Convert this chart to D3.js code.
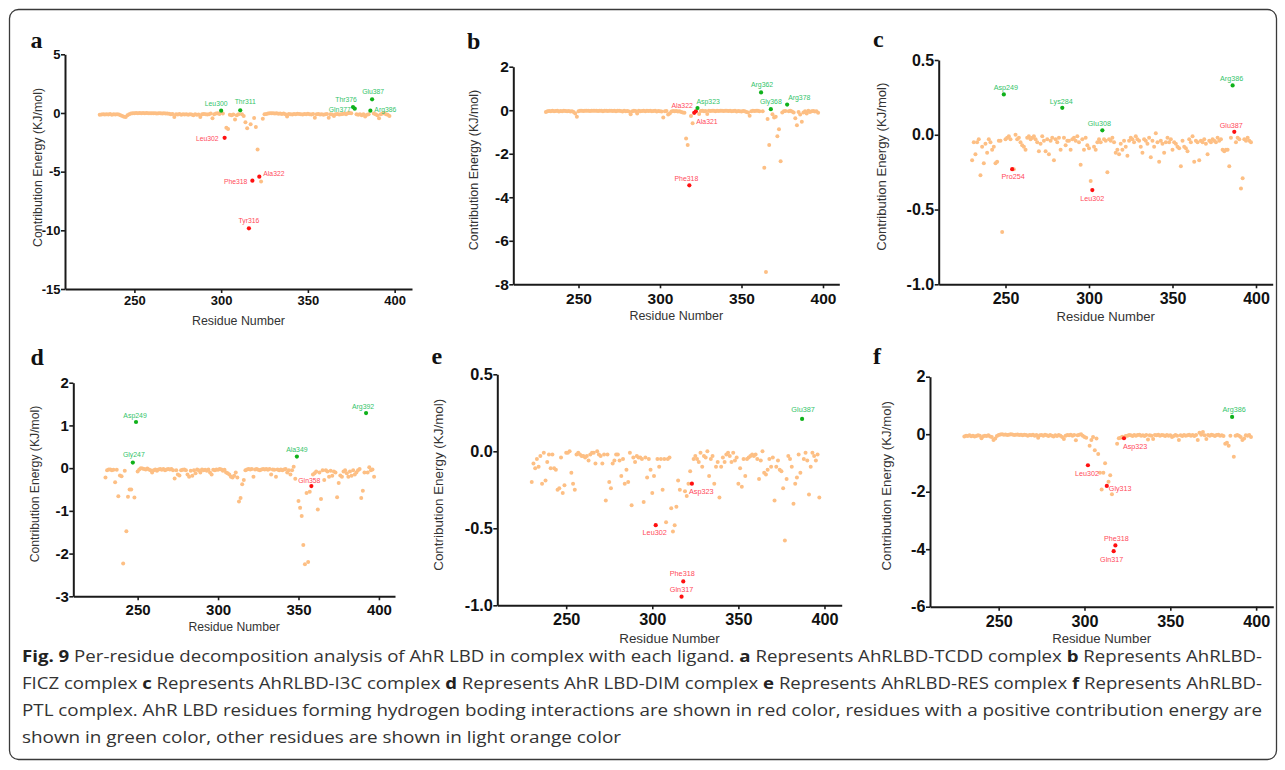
<!DOCTYPE html>
<html>
<head>
<meta charset="utf-8">
<script src="https://cdn.jsdelivr.net/npm/d3@7"></script>
<style>
  body { margin: 0; background: #fff; }
  svg { display: block; }
</style>
</head>
<body>
<div id="fig"></div>
<script>
// residues 230..397 of the AhR LBD, one value per residue in every panel
const residues = d3.range(230, 398);

const energyA = [
  -0.15,-0.12,-0.10,-0.14,-0.10,-0.12,-0.08,-0.15,-0.10,-0.12,
  -0.10,-0.14,-0.20,-0.25,-0.32,-0.35,-0.20,-0.10,-0.05,-0.03,
  -0.02,-0.01,-0.02,-0.01,-0.02,-0.01,-0.02,-0.01,-0.02,-0.03,
  -0.02,-0.03,-0.02,-0.05,-0.03,-0.02,-0.04,-0.03,-0.05,-0.04,
  -0.06,-0.10,-0.08,-0.35,-0.10,-0.12,-0.08,-0.15,-0.10,-0.12,
  -0.10,-0.15,-0.10,-0.12,-0.20,-0.10,-0.15,-0.12,-0.35,-0.10,
  -0.08,-0.10,-0.12,-0.10,-0.05,-0.45,-0.10,-0.05,-0.02,-0.08,
   0.20,-0.05,-2.12,-1.25,-1.36,-0.15,-0.20,-0.12,-0.55,-0.20,
  -0.10, 0.23,-0.10,-0.25,-0.80,-1.30,-9.83,-0.97,-5.77,-0.43,
  -1.19,-3.12,-5.43,-5.85,-0.50,-0.10,-0.08,-0.05,-0.02,-0.03,
  -0.02,-0.05,-0.03,-0.06,-0.04,-0.08,-0.05,-0.10,-0.30,-0.08,
  -0.10,-0.12,-0.08,-0.10,-0.06,-0.08,-0.10,-0.12,-0.08,-0.10,
  -0.06,-0.10,-0.12,-0.08,-0.40,-0.10,-0.08,-0.12,-0.10,-0.15,
  -0.10,-0.08,-0.40,-0.10,-0.12,-0.25,-0.10,-0.08,-0.12,-0.10,
  -0.08,-0.05,-0.10,-0.03, 0.00,-0.02, 0.50, 0.37,-0.10,-0.15,
  -0.10,-0.20,-0.10,-0.30,-0.15,-0.10, 0.20, 1.16,-0.05,-0.10,
  -0.20,-0.45,-0.10,-0.05,-0.02,-0.10,-0.15,-0.25
];
const energyB = [
  -0.08,-0.05,-0.04,-0.05,-0.03,-0.05,-0.04,-0.03,-0.06,-0.04,
  -0.05,-0.03,-0.04,-0.05,-0.04,-0.06,-0.05,-0.08,-0.15,-0.30,
  -0.05,-0.03,-0.02,-0.04,-0.03,-0.02,-0.03,-0.04,-0.02,-0.03,
  -0.02,-0.03,-0.04,-0.02,-0.03,-0.05,-0.03,-0.02,-0.04,-0.03,
  -0.02,-0.04,-0.03,-0.05,-0.02,-0.03,-0.04,-0.06,-0.03,-0.05,
  -0.04,-0.06,-0.18,-0.05,-0.03,-0.04,-0.15,-0.03,-0.05,-0.04,
  -0.03,-0.05,-0.02,-0.04,-0.03,-0.05,-0.04,-0.03,-0.06,-0.04,
  -0.05,-0.06,-0.34,-0.05,-0.04,-0.20,-0.15,-0.06,-0.04,-0.05,
  -0.04,-0.06,-0.05,-0.08,-0.10,-0.12,-1.30,-1.60,-3.45,-0.26,
  -0.60,-0.12,-0.05, 0.10,-0.17,-0.04,-0.03,-0.05,-0.04,-0.17,
  -0.03,-0.04,-0.02,-0.03,-0.05,-0.02,-0.04,-0.03,-0.02,-0.04,
  -0.03,-0.02,-0.04,-0.03,-0.05,-0.04,-0.03,-0.06,-0.04,-0.05,
  -0.06,-0.04,-0.05,-0.08,-0.10,-0.25,-0.05,-0.03,-0.04,-0.02,
  -0.03,-0.05, 0.82,-0.05,-2.64,-7.43,-0.40,-1.60, 0.05,-0.18,
  -0.34,-0.30,-1.20,-0.87,-2.35,-0.10,-0.05,-0.04, 0.26,-0.05,
  -0.03,-0.06,-0.10,-0.37,-0.69,-0.08,-0.20,-0.53,-0.10,-0.05,
  -0.15,-0.03,-0.08,-0.05,-0.04,-0.06,-0.05,-0.12
];
const energyC = [
  -0.17,-0.05,-0.13,-0.05,-0.03,-0.27,-0.08,-0.19,-0.06,-0.12,
  -0.03,-0.05,-0.10,-0.08,-0.19,-0.18,-0.04,-0.04,-0.65, 0.27,
  -0.03,-0.02,-0.01,-0.03,-0.23,-0.23, 0.00,-0.03,-0.02,-0.05,
  -0.07,-0.08,-0.10,-0.02,-0.01,-0.03,-0.02,-0.01,-0.03,-0.05,
  -0.11,-0.06,-0.01,-0.04,-0.11,-0.03,-0.13,-0.04,-0.02,-0.17,
  -0.03,-0.05,-0.02,-0.10, 0.18,-0.02,-0.07,-0.04,-0.04,-0.10,
  -0.03,-0.02,-0.04,-0.01,-0.05,-0.20,-0.03,-0.10,-0.02,-0.07,
  -0.09,-0.31,-0.37,-0.08,-0.10,-0.05,-0.03,-0.05, 0.03,-0.03,
  -0.04,-0.25,-0.03,-0.04,-0.02,-0.05,-0.12,-0.10,-0.13,-0.06,
  -0.10,-0.04,-0.08,-0.14,-0.04,-0.02,-0.03,-0.05,-0.01,-0.03,
  -0.04,-0.08,-0.12,-0.03,-0.04,-0.06,-0.02,-0.15,-0.04,-0.08,
   0.01,-0.05,-0.18,-0.04,-0.06,-0.12,-0.05,-0.02,-0.05,-0.03,
  -0.10,-0.05,-0.06,-0.08,-0.09,-0.21,-0.04,-0.08,-0.09,-0.11,
  -0.03,-0.05,-0.01,-0.18,-0.04,-0.05,-0.17,-0.04,-0.05,-0.03,
  -0.06,-0.13,-0.04,-0.05,-0.03,-0.04,-0.05,-0.02,-0.04,-0.03,
  -0.10,-0.11,-0.10,-0.10,-0.21,-0.02, 0.33, 0.02,-0.05,-0.02,
  -0.03,-0.36,-0.29,-0.03,-0.04,-0.02,-0.04,-0.05
];
const energyD = [
  -0.22,-0.05,-0.03,-0.03,-0.05,-0.04,-0.33,-0.04,-0.66,-0.17,
  -0.19,-2.23,-0.06,-1.48,-0.67,-0.50,-0.50, 0.13,-0.69, 1.08,
  -0.08,-0.03, 0.00,-0.01,-0.02,-0.03,-0.01,-0.03,-0.05,-0.10,
  -0.05,-0.03,-0.06,-0.03,-0.02,-0.04,-0.02,-0.05,-0.03,-0.02,
  -0.03,-0.02,-0.05,-0.24,-0.05,-0.15,-0.17,-0.05,-0.04,-0.03,
  -0.05,-0.15,-0.20,-0.06,-0.18,-0.05,-0.12,-0.03,-0.05,-0.10,
  -0.03,-0.05,-0.04,-0.06,-0.03,-0.10,-0.15,-0.04,-0.05,-0.03,
  -0.04,-0.02,-0.03,-0.06,-0.04,-0.10,-0.12,-0.15,-0.20,-0.22,
  -0.18,-0.10,-0.22,-0.78,-0.70,-0.38,-0.28,-0.05,-0.03,-0.02,
  -0.03,-0.02,-0.20,-0.03,-0.02,-0.04,-0.05,-0.03,-0.02,-0.03,
  -0.02,-0.04,-0.02,-0.15,-0.03,-0.04,-0.20,-0.03,-0.05,-0.03,
  -0.05,-0.03,-0.02,-0.10,-0.05,-0.15,-0.05, 0.03,-0.25, 0.27,
  -0.77,-0.93,-1.12,-1.80,-2.25,-0.58,-2.20,-0.55,-0.42,-0.15,
  -0.12,-0.08,-0.97,-0.10,-0.72,-0.05,-0.28,-0.05,-0.08,-0.20,
  -0.06,-0.18,-0.08,-0.10,-0.68,-0.35,-0.17,-0.20,-0.08,-0.05,
  -0.12,-0.20,-0.08,-0.18,-0.05,-0.15,-0.10,-0.05,-0.02,-0.70,
  -0.53,-0.10, 1.29,-0.10, 0.02,-0.05,-0.03,-0.20
];
const energyE = [
  -0.20,-0.08,-0.11,-0.05,-0.10,-0.03,-0.21,-0.01,-0.19,-0.07,
  -0.02,-0.11,-0.02,-0.11,-0.12,-0.25,-0.24,-0.04,-0.27,-0.22,
  -0.01,-0.01, 0.00,-0.14,-0.21,-0.25,-0.02,-0.01,-0.02,-0.03,
  -0.03,-0.04,-0.03,-0.06,-0.02,-0.01,-0.01,-0.08, 0.00,-0.02,
  -0.03,-0.08,-0.02,-0.32,-0.02,-0.20,-0.24,-0.08,-0.06,-0.02,
  -0.02,-0.06,-0.16,-0.05,-0.21,-0.12,-0.20,-0.01,-0.35,-0.04,
  -0.07,-0.03,-0.04,-0.04,-0.05,-0.33,-0.04,-0.17,-0.05,-0.12,
  -0.27,-0.16,-0.48,-0.05,-0.10,-0.05,-0.25,-0.05,-0.46,-0.05,
  -0.04,-0.37,-0.52,-0.48,-0.36,-0.19,-0.25,-0.944,-0.845,-0.26,
  -0.29,-0.21,-0.13,-0.21,-0.05,-0.03,-0.05,-0.07,-0.01,-0.10,
  -0.03,-0.04, 0.00,-0.16,-0.05,-0.03,-0.21,-0.10,-0.07,-0.30,
  -0.10,-0.04,-0.07,-0.02,-0.01,-0.03,-0.07,-0.01,-0.06,-0.04,
  -0.21,-0.11,-0.23,-0.05,-0.16,-0.05,-0.04,-0.03,-0.02,-0.03,
  -0.02,-0.05,-0.18,-0.06, 0.00,-0.14,-0.15,-0.12,-0.05,-0.10,
  -0.04,-0.32,-0.10,-0.06,-0.12,-0.13,-0.24,-0.58,-0.18,-0.03,
  -0.05,-0.10,-0.34,-0.21,-0.17,-0.02,-0.14, 0.21,-0.05,-0.01,
  -0.06,-0.28,-0.10,-0.01,-0.03,-0.06,-0.02,-0.30
];
const energyF = [
  -0.08,-0.05,-0.06,-0.04,-0.07,-0.05,-0.08,-0.06,-0.04,-0.05,
  -0.14,-0.07,-0.05,-0.06,-0.04,-0.08,-0.10,-0.20,-0.15,-0.06,
  -0.03,-0.01, 0.00,-0.02,-0.01,-0.03,-0.02, 0.00,-0.01,-0.03,
  -0.02,-0.01,-0.03,-0.02,-0.04,-0.02,-0.03,-0.05,-0.03,-0.04,
  -0.02,-0.05,-0.03,-0.12,-0.04,-0.03,-0.05,-0.02,-0.04,-0.06,
  -0.03,-0.05,-0.08,-0.04,-0.06,-0.03,-0.05,-0.10,-0.17,-0.05,
  -0.03,-0.04,-0.02,-0.05,-0.03,-0.21,-0.04,-0.02, 0.00,-0.05,
  -0.10,-0.12,-1.08,-0.40,-0.20,-0.10,-0.56,-0.15,-0.69,-1.34,
  -1.92,-1.34,-1.01,-1.80,-1.65,-1.43,-2.09,-4.07,-3.87,-0.33,
  -0.14,-0.12,-0.09,-0.14,-0.06,-0.05,-0.03,-0.04,-0.06,-0.03,
  -0.05,-0.03,-0.02,-0.05,-0.04,-0.06,-0.03,-0.18,-0.04,-0.05,
  -0.17,-0.03,-0.04,-0.02,-0.05,-0.03,-0.04,-0.06,-0.03,-0.05,
  -0.04,-0.10,-0.06,-0.03,-0.05,-0.20,-0.04,-0.06,-0.03,-0.05,
  -0.04,-0.02,-0.05,-0.03,-0.06,-0.03,-0.20, 0.05,-0.02, 0.08,
  -0.04,-0.17,-0.03,-0.05,-0.02,-0.04,-0.06,-0.03,-0.02,-0.05,
  -0.04,-0.06,-0.33,-0.30,-0.40,-0.05, 0.60,-0.78,-0.05,-0.03,
  -0.05,-0.10,-0.20,-0.15,-0.04,-0.05,-0.03,-0.10
];

// H-bond residues (red) and positive-energy residues (green)
const redA = [302, 316, 318, 322], greenA = [300, 311, 376, 377, 386, 387];
const redB = [318, 321, 322],      greenB = [323, 362, 368, 378];
const redC = [254, 302, 387],      greenC = [249, 284, 308, 386];
const redD = [358],                greenD = [247, 249, 349, 392];
const redE = [302, 317, 318, 323], greenE = [387];
const redF = [302, 313, 317, 318, 323], greenF = [386];

const residueNames = {
  247: 'Gly', 249: 'Asp', 254: 'Pro', 284: 'Lys', 300: 'Leu', 302: 'Leu',
  308: 'Glu', 311: 'Thr', 313: 'Gly', 316: 'Tyr', 317: 'Gln', 318: 'Phe',
  321: 'Ala', 322: 'Ala', 323: 'Asp', 349: 'Ala', 358: 'Gln', 362: 'Arg',
  368: 'Gly', 376: 'Thr', 377: 'Gln', 378: 'Arg', 386: 'Arg', 387: 'Glu',
  392: 'Arg'
};

const xTicks = [250, 300, 350, 400];
const yTicksA = [5, 0, -5, -10, -15];
const yTicksB = [2, 0, -2, -4, -6, -8];
const yTicksC = [0.5, 0, -0.5, -1];
const yTicksD = [2, 1, 0, -1, -2, -3];
const yTicksE = [0.5, 0, -0.5, -1];
const yTicksF = [2, 0, -2, -4, -6];

const captionLines = [
  [['Fig. 9', 1], [' Per-residue decomposition analysis of AhR LBD in complex with each ligand. ', 0], ['a', 1], [' Represents AhRLBD-TCDD complex ', 0], ['b', 1], [' Represents AhRLBD-', 0]],
  [['FICZ complex ', 0], ['c', 1], [' Represents AhRLBD-I3C complex ', 0], ['d', 1], [' Represents AhR LBD-DIM complex ', 0], ['e', 1], [' Represents AhRLBD-RES complex ', 0], ['f', 1], [' Represents AhRLBD-', 0]],
  [['PTL complex. AhR LBD residues forming hydrogen boding interactions are shown in red color, residues with a positive contribution energy are', 0]],
  [['shown in green color, other residues are shown in light orange color', 0]]
];

// label placement: residue -> [anchor, dx, dy]
const placeA = {300:['middle',-5,-5],311:['middle',5,-6],302:['end',-6,3],316:['middle',0,-5],318:['end',-5,3],322:['start',4,-1],376:['middle',-7,-5],377:['end',-4,3],386:['start',4,1],387:['middle',1,-5]};
const placeB = {322:['end',-3,-3],321:['start',2,11],323:['start',-1,-4],318:['middle',-3,-4],362:['middle',1,-5],368:['middle',0,-5],378:['start',1,-5]};
const placeC = {249:['middle',2,-4],284:['middle',-1,-4],308:['middle',-3,-4],386:['middle',-1,-4],254:['middle',1,10],302:['middle',0,11],387:['middle',-3,-4]};
const placeD = {249:['middle',-1,-4],247:['middle',1,-6],349:['middle',0,-5],392:['middle',-3,-4],358:['middle',-2,-3]};
const placeE = {387:['middle',1,-7],323:['start',-3,10],302:['middle',-1,10],318:['middle',-1,-5],317:['middle',0,-5]};
const placeF = {386:['middle',2,-5],323:['start',-1,11],302:['middle',-1,11],313:['start',2,5],318:['middle',1,-4],317:['middle',-2,11]};

const panels = [
  {key:'a', energy:energyA, red:redA, green:greenA, place:placeA, xr:[65,412], yr:[289,54.3], yd:[-15,5], yt:yTicksA, dec:0,
   tickFs:13, labFs:12.4, markFs:6.8, xPad:3, letter:[30.5,48.3], ylab:[38,167.5], xlabY:325},
  {key:'b', energy:energyB, red:redB, green:greenB, place:placeB, xr:[513.3,839.3], yr:[284.3,66.7], yd:[-8,2], yt:yTicksB, dec:0,
   tickFs:15.5, labFs:12.5, markFs:6.9, xPad:4.5, letter:[467,49], ylab:[473,170], xlabY:320},
  {key:'c', energy:energyC, red:redC, green:greenC, place:placeC, xr:[938.7,1272.7], yr:[284.3,60], yd:[-1,0.5], yt:yTicksC, dec:1,
   tickFs:16, labFs:13.1, markFs:7.2, xPad:4.5, letter:[873,47.3], ylab:[881.7,166.7], xlabY:321},
  {key:'d', energy:energyD, red:redD, green:greenD, place:placeD, xr:[73.3,395], yr:[596.3,382.7], yd:[-3,2], yt:yTicksD, dec:0,
   tickFs:15, labFs:12.2, markFs:6.9, xPad:4.5, letter:[30.5,365], ylab:[35,484], xlabY:631},
  {key:'e', energy:energyE, red:redE, green:greenE, place:placeE, xr:[497.3,841.7], yr:[605.3,374.3], yd:[-1,0.5], yt:yTicksE, dec:1,
   tickFs:16.3, labFs:13.4, markFs:7.3, xPad:4.5, letter:[431.5,364], ylab:[438,484.8], xlabY:643},
  {key:'f', energy:energyF, red:redF, green:greenF, place:placeF, xr:[930,1273.3], yr:[606.7,376.7], yd:[-6,2], yt:yTicksF, dec:0,
   tickFs:16.2, labFs:13.2, markFs:7.2, xPad:4.5, letter:[873,364], ylab:[886.7,485.8], xlabY:643}
];

const W = 1285, H = 770;
const colors = {other: '#fdbf84', red: '#ff1010', green: '#0fb11a'};
const textColors = {red: '#ff4a5a', green: '#33c46a'};
const sans = 'Liberation Sans, Arial, Helvetica, sans-serif';

const svg = d3.select('#fig').append('svg')
  .attr('width', W).attr('height', H)
  .attr('viewBox', [0, 0, W, H]);

svg.append('rect').attr('width', W).attr('height', H).attr('fill', '#fff');

// outer frame of the figure
svg.append('rect')
  .attr('x', 9.5).attr('y', 9.5)
  .attr('width', 1267).attr('height', 750)
  .attr('rx', 9)
  .attr('fill', 'none')
  .attr('stroke', '#3a3a3a')
  .attr('stroke-width', 1.3);

function drawPanel(p) {
  const x = d3.scaleLinear().domain([210, 410]).range(p.xr);
  const y = d3.scaleLinear().domain(p.yd).range(p.yr);
  const g = svg.append('g').attr('class', 'panel-' + p.key);

  //axes
  const gx = g.append('g')
    .attr('transform', `translate(0,${p.yr[0]})`)
    .call(d3.axisBottom(x).tickValues(xTicks).tickSize(4).tickPadding(p.xPad).tickSizeOuter(0));
  const gy = g.append('g')
    .attr('transform', `translate(${p.xr[0]},0)`)
    .call(d3.axisLeft(y).tickValues(p.yt).tickFormat((d) => d.toFixed(p.dec))
      .tickSize(4).tickPadding(0.5).tickSizeOuter(0));
  [gx, gy].forEach((a) => {
    a.select('.domain').attr('stroke', '#1a1a1a').attr('stroke-width', 2);
    a.selectAll('.tick line').attr('stroke', '#1a1a1a').attr('stroke-width', 1.6);
    a.selectAll('.tick text')
      .attr('fill', '#111')
      .style('font-family', sans)
      .style('font-weight', 'bold')
      .style('font-size', p.tickFs + 'px');
  });

  g.append('text')
    .attr('x', (p.xr[0] + p.xr[1]) / 2)
    .attr('y', p.xlabY)
    .attr('text-anchor', 'middle')
    .attr('fill', '#333')
    .style('font-family', sans)
    .style('font-size', p.labFs + 'px')
    .text('Residue Number');

  g.append('text')
    .attr('transform', `translate(${p.ylab[0] + p.labFs * 0.36},${p.ylab[1]}) rotate(-90)`)
    .attr('text-anchor', 'middle')
    .attr('fill', '#333')
    .style('font-family', sans)
    .style('font-size', p.labFs + 'px')
    .text('Contribution Energy (KJ/mol)');

  g.append('text')
    .attr('x', p.letter[0]).attr('y', p.letter[1])
    .attr('fill', '#111')
    .style('font-family', 'Liberation Serif, Times New Roman, serif')
    .style('font-weight', 'bold')
    .style('font-size', '24px')
    .text(p.key);

  const pts = residues.map((r, i) => ({
    r: r,
    v: p.energy[i],
    kind: p.red.includes(r) ? 'red' : p.green.includes(r) ? 'green' : 'other'
  }));

  // plain residues first, the coloured ones on top
  const ordered = pts.filter((d) => d.kind === 'other').concat(pts.filter((d) => d.kind !== 'other'));
  g.append('g').selectAll('circle')
    .data(ordered)
    .join('circle')
    .attr('cx', (d) => x(d.r))
    .attr('cy', (d) => y(d.v))
    .attr('r', (d) => (d.kind === 'other' ? 2 : 2.1))
    .attr('fill', (d) => colors[d.kind]);

  g.append('g').selectAll('text')
    .data(pts.filter((d) => d.kind !== 'other'))
    .join('text')
    .attr('x', (d) => x(d.r) + p.place[d.r][1])
    .attr('y', (d) => y(d.v) + p.place[d.r][2])
    .attr('text-anchor', (d) => p.place[d.r][0])
    .attr('fill', (d) => textColors[d.kind])
    .style('font-family', sans)
    .style('font-size', p.markFs + 'px')
    .text((d) => residueNames[d.r] + d.r);
}

panels.forEach(drawPanel);

// caption
const capY = [662, 689, 716, 743];
const capW = [1240, 1240, 1240, 599];
captionLines.forEach((line, i) => {
  const t = svg.append('text')
    .attr('x', 22).attr('y', capY[i])
    .attr('textLength', capW[i])
    .attr('lengthAdjust', 'spacingAndGlyphs')
    .attr('fill', '#333')
    .style('font-family', 'Open Sans, Liberation Sans, sans-serif')
    .style('font-size', '16.5px')
    .style('white-space', 'pre');
  line.forEach(([s, b]) => {
    t.append('tspan')
      .style('font-weight', b ? 'bold' : 'normal')
      .attr('fill', b ? '#222' : '#333')
      .text(s);
  });
});
</script>
</body>
</html>
